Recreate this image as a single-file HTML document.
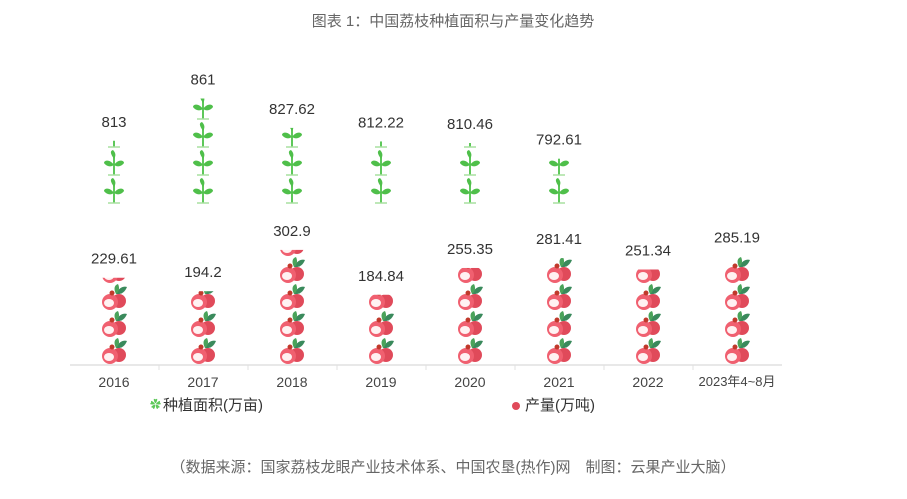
<!DOCTYPE html>
<html><head><meta charset="utf-8"><style>
body{margin:0;background:#fff;}
svg{display:block;font-family:"Liberation Sans","Noto Sans CJK SC",sans-serif;}
</style></head><body>
<svg id="chart" width="907" height="499" viewBox="0 0 907 499">
<defs>
<pattern id="plant" patternUnits="userSpaceOnUse" x="0" y="0" width="30" height="28">
<g transform="translate(15,0)">
<line x1="0" y1="6" x2="0" y2="26" stroke="#5ec85a" stroke-width="2"/>
<path d="M0 10 C-4 4 -4 2 -1 1 C2 4 2 7 0 10Z" fill="#4fbf4a"/>
<path d="M0 16 C-4 10 -10 11 -10 14 C-7 18 -3 18 0 16Z" fill="#4fbf4a"/>
<path d="M0 16 C4 10 10 11 10 14 C7 18 3 18 0 16Z" fill="#4fbf4a"/>
<line x1="-6" y1="26" x2="6" y2="26" stroke="#a8e0a0" stroke-width="1.5"/>
</g></pattern>
<pattern id="lychee" patternUnits="userSpaceOnUse" x="0" y="0" width="30" height="27">
<path d="M17 10 C20 3 25 2 28 3 C26 8 22 11 17 10Z" fill="#3a8a5c"/>
<path d="M17 10 C14 4 16 1 19 0 C21 4 20 8 17 10Z" fill="#4aa35a"/>
<circle cx="20" cy="17" r="7" fill="#e04a5a"/>
<circle cx="11" cy="18" r="8" fill="#f06070"/>
<ellipse cx="10" cy="19" rx="5" ry="4" fill="#fff2f2"/>
<circle cx="13" cy="9" r="2.5" fill="#c0392b"/>
</pattern>
</defs>
<text x="453" y="26" text-anchor="middle" font-size="15" fill="#666">图表 1：中国荔枝种植面积与产量变化趋势</text>
<line x1="70" y1="365" x2="782" y2="365" stroke="#e0e0e0" stroke-width="1.5"/>
<g id="ticks"></g>
<g id="bars"></g>
<g id="labels"></g>
<g>
<text x="150" y="408" font-size="11" fill="#5ec85a">✿</text>
<text x="163" y="410" font-size="15" fill="#333">种植面积(万亩)</text>
</g>
<g>
<circle cx="516" cy="406" r="4" fill="#e04a5a"/>
<text x="525" y="410" font-size="15" fill="#333">产量(万吨)</text>
</g>
<text x="453" y="472" text-anchor="middle" font-size="15" fill="#666">（数据来源：国家荔枝龙眼产业技术体系、中国农垦(热作)网　制图：云果产业大脑）</text>
</svg>
<script>
const categories=["2016","2017","2018","2019","2020","2021","2022","2023年4~8月"];
const areaValues=[813,861,827.62,812.22,810.46,792.61,null,null];
const areaLabels=["813","861","827.62","812.22","810.46","792.61","",""];
const prodValues=[229.61,194.2,302.9,184.84,255.35,281.41,251.34,285.19];
const prodLabels=["229.61","194.2","302.9","184.84","255.35","281.41","251.34","285.19"];
const NS="http://www.w3.org/2000/svg";
const x0=70,band=89;
function xc(i){return x0+band*(i+0.5)-0.5;}
function yArea(v){return 205-(v-740)*0.88;}
function yProd(v){return 365-v*0.38;}
function mk(t,a){const e=document.createElementNS(NS,t);for(const k in a)e.setAttribute(k,a[k]);return e;}
const ticks=document.getElementById('ticks'),bars=document.getElementById('bars'),labels=document.getElementById('labels');
categories.forEach((c,i)=>{
  if(i>0){const tk=mk('line',{x1:x0+band*i,y1:365,x2:x0+band*i,y2:370,stroke:'#e0e0e0'});
  
  
  ticks.appendChild(tk);}
  const t=mk('text',{x:xc(i),y:i===7?386:387,'text-anchor':'middle','font-size':i===7?13:14,fill:'#444'});
  
  
  t.textContent=c;labels.appendChild(t);
  if(areaValues[i]!=null){
    const top=yArea(areaValues[i]);
    const g=mk('g',{transform:`translate(${xc(i)-15},205)`});
    const r=mk('rect',{x:0,y:top-205,width:30,height:205-top,fill:'url(#plant)'});
    
    
    g.appendChild(r);bars.appendChild(g);
    const l=mk('text',{x:xc(i),y:top-14,'text-anchor':'middle','font-size':15,fill:'#333'});
    
    
    l.textContent=areaLabels[i];labels.appendChild(l);
  }
  const top=yProd(prodValues[i]);
  const g=mk('g',{transform:`translate(${xc(i)-15},365)`});
  const r=mk('rect',{x:0,y:top-365,width:30,height:365-top,fill:'url(#lychee)'});
  
  
  g.appendChild(r);bars.appendChild(g);
  const l=mk('text',{x:xc(i),y:top-14,'text-anchor':'middle','font-size':15,fill:'#333'});
  
  
  l.textContent=prodLabels[i];labels.appendChild(l);
});
</script>
</body></html>
